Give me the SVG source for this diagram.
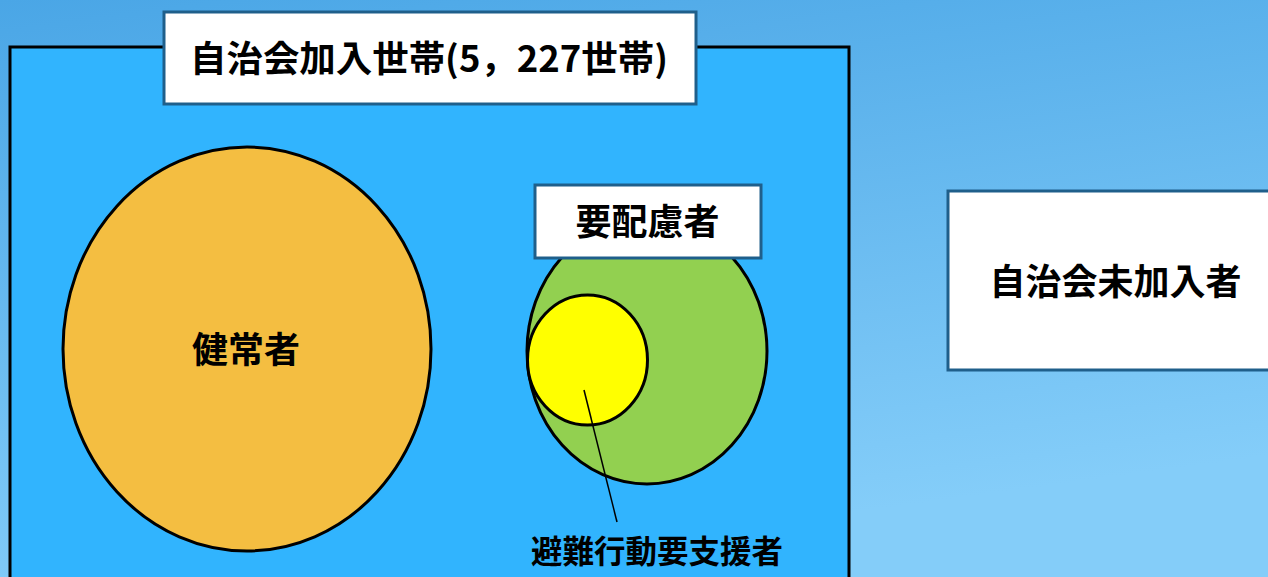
<svg xmlns="http://www.w3.org/2000/svg" width="1268" height="577" viewBox="0 0 1268 577">
<defs>
<linearGradient id="bg" x1="0" y1="0" x2="0.3" y2="1">
<stop offset="0" stop-color="#4aa6e6"/>
<stop offset="1" stop-color="#84cdf9"/>
</linearGradient>
</defs>
<style>
.lbl{fill:#fff;stroke:#1f5f8b;stroke-width:3}
.sh{stroke:#000;stroke-width:3}
text{font-family:"Noto Sans CJK JP","Noto Sans CJK SC",sans-serif;font-weight:bold;fill:#000;text-anchor:middle}
</style>
<rect width="1268" height="577" fill="url(#bg)"/>
<g id="members">
<rect x="10" y="47" width="839" height="540" fill="#31b4fe" class="sh"/>
</g>
<g id="title">
<rect x="164" y="12" width="532" height="92" class="lbl"/>
<text x="429" y="72" font-size="36" textLength="478" lengthAdjust="spacingAndGlyphs">自治会加入世帯(5，227世帯)</text>
</g>
<g id="healthy">
<ellipse cx="247" cy="349" rx="184" ry="202" fill="#f4be41" class="sh"/>
<text x="246" y="363" font-size="36">健常者</text>
</g>
<g id="needs-care">
<ellipse cx="647" cy="351" rx="120" ry="133" fill="#92d050" class="sh"/>
</g>
<g id="evac-support">
<ellipse cx="587.5" cy="360" rx="60" ry="65" fill="#ffff00" class="sh"/>
</g>
<g id="needs-care-label">
<rect x="535" y="185" width="226" height="73" class="lbl"/>
<text x="647.5" y="235" font-size="36">要配慮者</text>
</g>
<g id="connectors">
<line x1="584" y1="390" x2="617" y2="522" stroke="#000" stroke-width="1.5"/>
</g>
<g id="evac-label">
<text x="657" y="563" font-size="31.5">避難行動要支援者</text>
</g>
<g id="non-members">
<rect x="948" y="191" width="330" height="179" class="lbl"/>
<text x="1115.5" y="295" font-size="36">自治会未加入者</text>
</g>
</svg>
